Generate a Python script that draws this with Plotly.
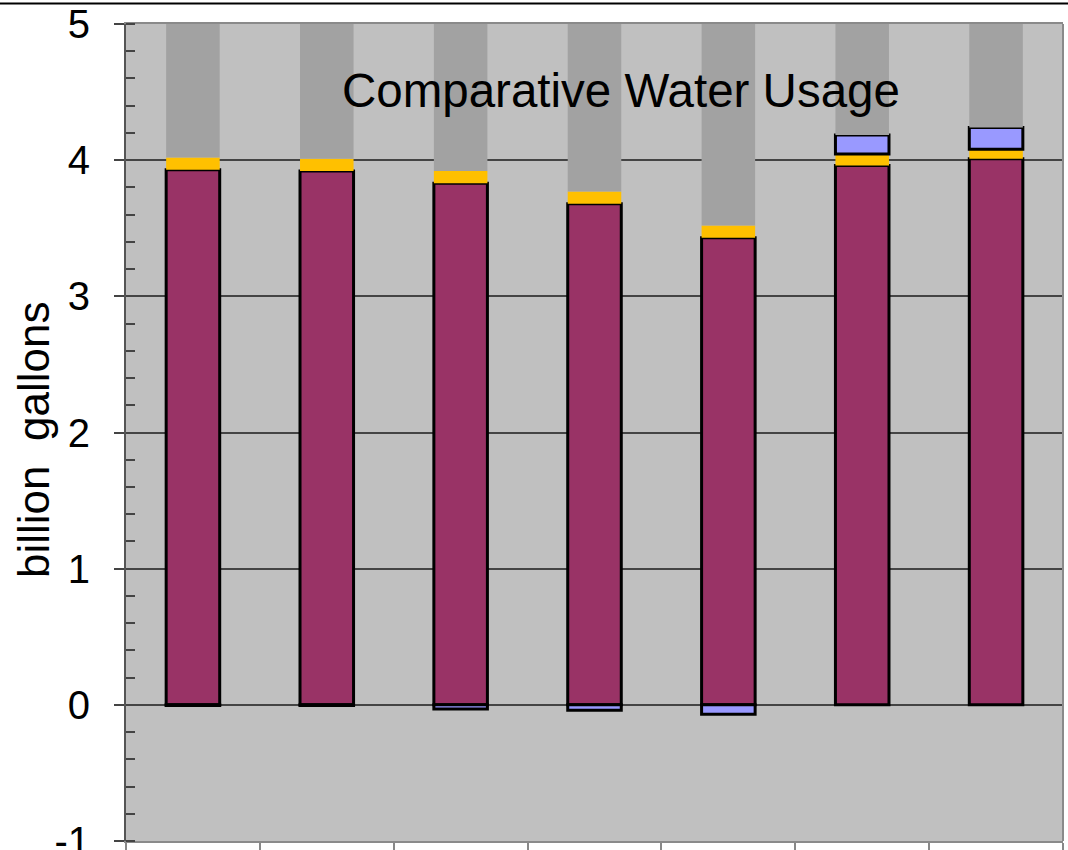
import plotly.graph_objects as go

# Seven periods, stacked components in billion gallons
periods = [1, 2, 3, 4, 5, 6, 7]
base_use = [3.93, 3.92, 3.83, 3.68, 3.43, 3.96, 4.01]
added_use = [0.09, 0.09, 0.09, 0.09, 0.09, 0.085, 0.07]
net_change = [-0.005, -0.005, -0.03, -0.04, -0.07, 0.14, 0.16]

# Value axis ticks and their labels
y_tickvals = [-1, 0, 1, 2, 3, 4, 5]
y_ticktext = ["-1", "0", "1", "2", "3", "4", "5"]

y_min, y_max = -1, 5

# Headroom bar filling each column up to the axis maximum
positive_top = [b + a + max(n, 0) for b, a, n in zip(base_use, added_use, net_change)]
headroom = [y_max - t for t in positive_top]

bar_w = 0.4
fig = go.Figure()
fig.add_trace(go.Bar(x=periods, y=base_use, width=bar_w,
                     marker=dict(color="#993366", line=dict(color="black", width=3))))
fig.add_trace(go.Bar(x=periods, y=added_use, width=bar_w,
                     marker=dict(color="#FFC000", line=dict(width=0))))
fig.add_trace(go.Bar(x=periods, y=net_change, width=bar_w,
                     marker=dict(color="#9999FF", line=dict(color="black", width=3))))
fig.add_trace(go.Bar(x=periods, y=headroom, width=bar_w,
                     marker=dict(color="#A2A2A2", line=dict(width=0))))

fig.update_layout(
    width=1068, height=850,
    barmode="relative",
    showlegend=False,
    paper_bgcolor="white",
    plot_bgcolor="#C0C0C0",
    margin=dict(l=126, r=5, t=24, b=9, autoexpand=False),
    font=dict(family="Liberation Sans, Arial, sans-serif", color="black"),
    xaxis=dict(range=[0.5, 7.5], tickvals=[0.5 + i for i in range(8)],
               showticklabels=False, ticks="outside", ticklen=10, tickwidth=1.5,
               tickcolor="#888888", showgrid=False, zeroline=False, automargin=False,
               showline=True, linecolor="#8A8A8A", linewidth=2, mirror=True),
    yaxis=dict(range=[y_min, y_max], tickvals=y_tickvals, ticktext=y_ticktext,
               automargin=False,
               ticks="outside", ticklen=10, tickwidth=2, tickcolor="#444444",
               tickfont=dict(size=40), ticklabelstandoff=16, ticklabeloverflow="allow",
               showgrid=True, gridcolor="#444444", gridwidth=1.5,
               zeroline=True, zerolinecolor="#444444", zerolinewidth=1.5,
               showline=True, linecolor="#555555", linewidth=2,
               minor=dict(ticks="inside", dtick=0.2, tick0=0, ticklen=9, tickwidth=1.5,
                          tickcolor="#444444", showgrid=False)),
)

# Right border of the plotting area
fig.add_shape(type="line", xref="paper", yref="paper", x0=1, x1=1, y0=0, y1=1,
              line=dict(color="#8A8A8A", width=2))
# Rule across the top of the page
fig.add_shape(type="line", xref="paper", yref="paper",
              x0=-126 / 937, x1=1 + 5 / 937, y0=(841 - 3.5) / 817, y1=(841 - 3.5) / 817,
              line=dict(color="black", width=2))

fig.add_annotation(text="Comparative Water Usage", xref="paper", yref="paper",
                   x=(621 - 126) / 937, y=(841 - 90) / 817, showarrow=False,
                   font=dict(size=47.5), xanchor="center", yanchor="middle")
fig.add_annotation(text="billion  gallons", xref="paper", yref="paper",
                   x=(33 - 126) / 937, y=(841 - 440) / 817, showarrow=False,
                   textangle=-90, font=dict(size=44), xanchor="center", yanchor="middle")

fig.write_html("out.html")
